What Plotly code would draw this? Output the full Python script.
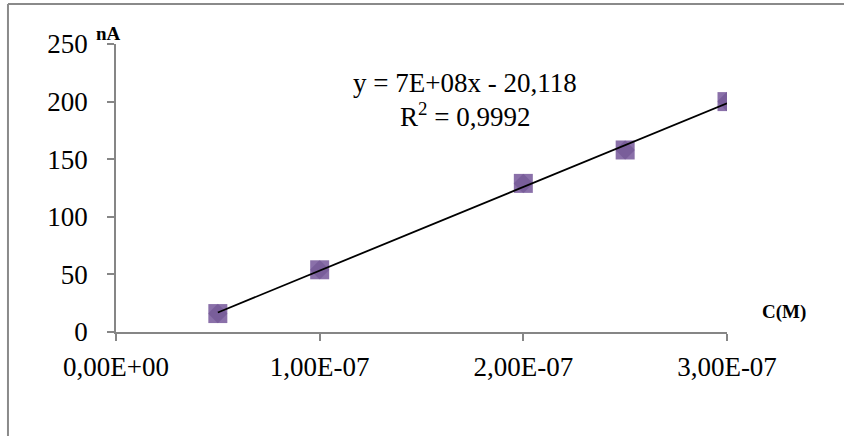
import numpy as np
import plotly.graph_objects as go

# Data
conc = [5e-08, 1e-07, 2e-07, 2.5e-07, 3e-07]
current = [16, 54, 129, 158, 200]
x_tick_vals = [0, 1e-07, 2e-07, 3e-07]
x_tick_text = ["0,00E+00", "1,00E-07", "2,00E-07", "3,00E-07"]
y_tick_vals = [0, 50, 100, 150, 200, 250]
eq_text = "y = 7E+08x - 20,118"
r2_text = "R<sup>2</sup> = 0,9992"

slope, intercept = np.polyfit(conc, current, 1)
trend_x = [conc[0], conc[-1]]
trend_y = [slope * v + intercept for v in trend_x]

FONT = "Liberation Serif"
AXC = "#868686"

fig = go.Figure()
fig.add_trace(go.Scatter(x=conc, y=current, mode="markers",
                         marker=dict(symbol="square", size=19, color="rgba(128,100,162,0.92)",
                                     line=dict(width=0)), showlegend=False))
fig.add_trace(go.Scatter(x=conc, y=current, mode="markers",
                         marker=dict(symbol="diamond", size=15, color="rgba(90,60,125,0.35)",
                                     line=dict(width=0)), showlegend=False))
fig.add_trace(go.Scatter(x=trend_x, y=trend_y, mode="lines",
                         line=dict(color="black", width=1.8), showlegend=False))

fig.update_layout(
    width=844, height=436,
    margin=dict(l=116, r=117, t=44, b=104, autoexpand=False),
    paper_bgcolor="white", plot_bgcolor="white",
    font=dict(family=FONT, size=27, color="black"),
    xaxis=dict(range=[0, 3e-07], tickvals=x_tick_vals, ticktext=x_tick_text,
               showline=True, linecolor=AXC, linewidth=1.5, ticks="outside",
               ticklen=7, tickcolor=AXC, tickwidth=1.5, showgrid=False, zeroline=False,
               ticklabelstandoff=3, automargin=False),
    yaxis=dict(range=[0, 250], tickvals=y_tick_vals,
               showline=True, linecolor=AXC, linewidth=1.5, ticks="outside",
               ticklen=7, tickcolor=AXC, tickwidth=1.5, showgrid=False, zeroline=False,
               ticklabelstandoff=14, automargin=False),
    annotations=[
        dict(x=1.713e-07, y=216, xref="x", yref="y", text=eq_text, showarrow=False,
             font=dict(family=FONT, size=27)),
        dict(x=1.713e-07, y=188, xref="x", yref="y", text=r2_text, showarrow=False,
             font=dict(family=FONT, size=27)),
        dict(x=-0.0115, y=1.038, xref="paper", yref="paper", xanchor="center", yanchor="middle",
             text="<b>nA</b>", showarrow=False, font=dict(family=FONT, size=19)),
        dict(x=1.093, y=0.069, xref="paper", yref="paper", xanchor="center", yanchor="middle",
             text="<b>C(M)</b>", showarrow=False, font=dict(family=FONT, size=19)),
    ],
    shapes=[
        dict(type="line", xref="paper", yref="paper", x0=-0.1768, x1=1.2, y0=1.1389, y1=1.1389,
             line=dict(color="#8a8a8a", width=2)),
        dict(type="line", xref="paper", yref="paper", x0=-0.1768, x1=-0.1768, y0=1.1389, y1=-0.37,
             line=dict(color="#8a8a8a", width=2)),
    ],
)

fig.write_html("out.html", config={"displayModeBar": False},
               post_script="document.body.style.margin='0';document.body.style.padding='0';document.body.style.overflow='hidden';")
